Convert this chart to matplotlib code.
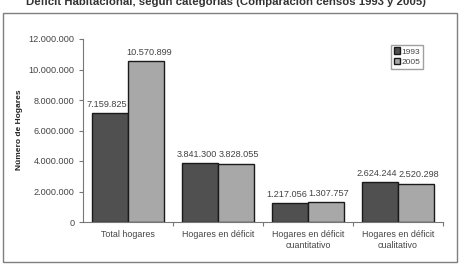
import matplotlib
matplotlib.use("Agg")
import matplotlib.pyplot as plt
import numpy as np
from matplotlib.patches import Rectangle

# data
categories = ["Total hogares", "Hogares en déficit", "Hogares en déficit\ncuantitativo",
              "Hogares en déficit\ncualitativo"]
values_1993 = [7159825, 3841300, 1217056, 2624244]
values_2005 = [10570899, 3828055, 1307757, 2520298]
series_names = ["1993", "2005"]
yticks = [0, 2000000, 4000000, 6000000, 8000000, 10000000, 12000000]

def fmt(v):
    return f"{v:,}".replace(",", ".")

plt.rcParams["font.family"] = ["Liberation Sans", "DejaVu Sans"]
text_col = "#444444"

W, H = 459, 264
fig = plt.figure(figsize=(W / 100, H / 100), dpi=100)

# outer frame around the chart
fig.patches.append(Rectangle((3 / W, 2 / H), 454 / W, 249 / H, transform=fig.transFigure,
                             fill=False, edgecolor="#7f7f7f", linewidth=1.0))

# title, cut at the top edge as in the source picture
fig.text(0.492, 1 - 5 / H, "Déficit Habitacional, según categorías (Comparación censos 1993 y 2005)",
         ha="center", va="baseline", fontsize=8.2, color="#333333", fontweight="bold")

ax = fig.add_axes([83 / W, 42 / H, 360 / W, 183 / H])
x = np.arange(len(categories))
bw = 0.4
b1 = ax.bar(x - bw / 2, values_1993, bw, color="#505050", edgecolor="#1a1a1a", linewidth=1.0,
            label=series_names[0])
b2 = ax.bar(x + bw / 2, values_2005, bw, color="#a8a8a8", edgecolor="#1a1a1a", linewidth=1.0,
            label=series_names[1])

# labels nudged apart a little, like the original
for bars, vals, dx in ((b1, values_1993, -2.5), (b2, values_2005, 2.0)):
    for r, v in zip(bars, vals):
        ax.annotate(fmt(v), (r.get_x() + r.get_width() / 2, v), xytext=(dx, 3),
                    textcoords="offset points", ha="center", va="bottom",
                    fontsize=6.6, color=text_col)

ax.set_xlim(-0.5, len(categories) - 0.5)
ax.set_ylim(0, 12000000)
ax.set_yticks(yticks)
ax.set_yticklabels([fmt(t) for t in yticks], fontsize=6.6, color=text_col)
ax.tick_params(axis="y", length=3, width=0.8, color="#777777", pad=3)

ax.set_xticks(x)
ax.set_xticklabels(categories, fontsize=6.4, color=text_col, linespacing=1.3)
ax.tick_params(axis="x", length=0, pad=6)
ax.set_xticks(np.arange(len(categories)) + 0.5, minor=True)
ax.tick_params(axis="x", which="minor", length=3, width=0.8, color="#777777")

for s in ("top", "right"):
    ax.spines[s].set_visible(False)
for s in ("left", "bottom"):
    ax.spines[s].set_color("#777777")
    ax.spines[s].set_linewidth(0.8)

fig.text(20 / W, 1 - 130 / H, "Número de Hogares", rotation=90, ha="center", va="center",
         fontsize=6.0, fontweight="bold", color="#222222")

fig.legend(handles=[b1, b2], loc="upper left", bbox_to_anchor=(391 / W, 1 - 45 / H),
           fontsize=6.0, frameon=True, fancybox=False, edgecolor="#888888",
           handlelength=0.8, handleheight=0.8, handletextpad=0.2, borderpad=0.3,
           labelspacing=0.3, borderaxespad=0, labelcolor=text_col)

fig.savefig("out.png", dpi=100)
